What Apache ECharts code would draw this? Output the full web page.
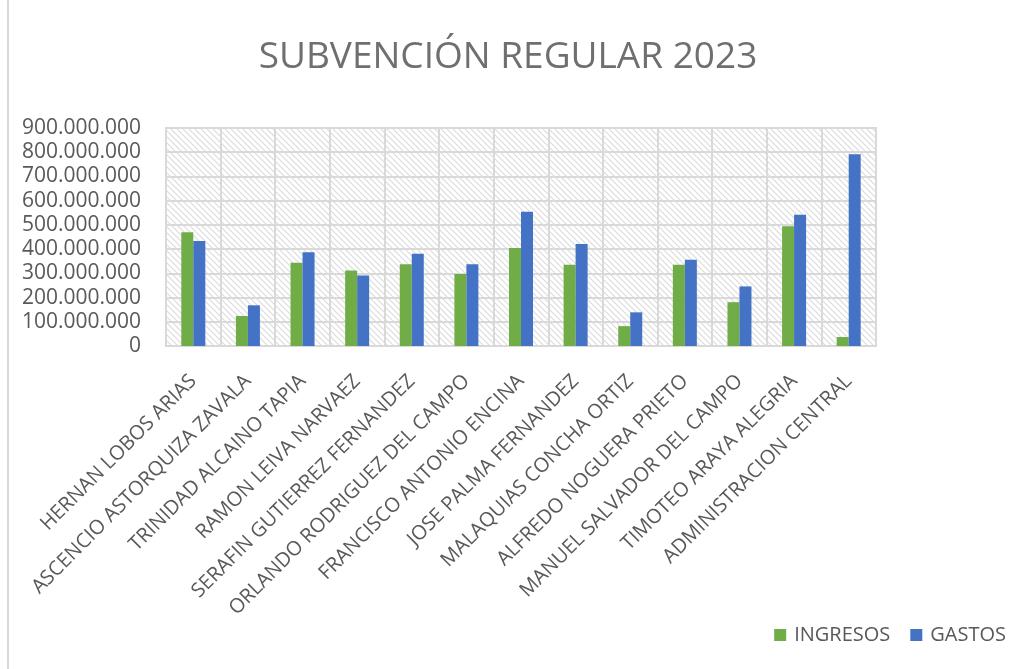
<!DOCTYPE html>
<html lang="es">
<head>
<meta charset="utf-8">
<title>Subvención Regular 2023</title>
<script src="https://cdn.jsdelivr.net/npm/echarts@6/dist/echarts.min.js"></script>
<style>
    html, body { margin: 0; padding: 0; background: #fff; }
    #chart { width: 1016px; height: 669px; }
</style>
</head>
<body>
<div id="chart"></div>
<script>
var categorias = ['HERNAN LOBOS ARIAS', 'ASCENCIO ASTORQUIZA ZAVALA', 'TRINIDAD ALCAINO TAPIA',
    'RAMON LEIVA NARVAEZ', 'SERAFIN GUTIERREZ FERNANDEZ', 'ORLANDO RODRIGUEZ DEL CAMPO',
    'FRANCISCO ANTONIO ENCINA', 'JOSE PALMA FERNANDEZ', 'MALAQUIAS CONCHA ORTIZ',
    'ALFREDO NOGUERA PRIETO', 'MANUEL SALVADOR DEL CAMPO', 'TIMOTEO ARAYA ALEGRIA',
    'ADMINISTRACION CENTRAL'];
var ingresos = [470000000, 124000000, 344000000, 312000000, 338000000, 297000000, 405000000,
    335000000, 82000000, 335000000, 181000000, 494000000, 37000000];
var gastos = [433000000, 168000000, 387000000, 291000000, 381000000, 338000000, 554000000,
    421000000, 139000000, 356000000, 246000000, 542000000, 792000000];

// trama diagonal del fondo del area de trazado
function trama() {
    var c = document.createElement('canvas');
    c.width = 6; c.height = 6;
    var ctx = c.getContext('2d');
    ctx.fillStyle = '#ffffff';
    ctx.fillRect(0, 0, 6, 6);
    ctx.strokeStyle = '#dcdcdc';
    ctx.lineWidth = 1.2;
    ctx.beginPath();
    ctx.moveTo(-1, -1); ctx.lineTo(7, 7);
    ctx.moveTo(-4, 2); ctx.lineTo(4, 10);
    ctx.moveTo(2, -4); ctx.lineTo(10, 4);
    ctx.stroke();
    return c;
}

function puntos(v) {
    return String(v).replace(/\B(?=(\d{3})+(?!\d))/g, '.');
}

var myChart = echarts.init(document.getElementById('chart'));
var option = {
    animation: false,
    backgroundColor: '#ffffff',
    textStyle: { fontFamily: 'Open Sans' },
    title: {
        text: 'SUBVENCIÓN REGULAR 2023',
        left: 'center',
        top: 34,
        textStyle: { fontSize: 37, fontWeight: 'normal', color: '#6f6f6f', fontFamily: 'Open Sans' }
    },
    graphic: [{
        type: 'line',
        shape: { x1: 8, y1: 0, x2: 8, y2: 669 },
        style: { stroke: '#d9d9d9', lineWidth: 2 }
    }],
    legend: {
        data: ['INGRESOS', 'GASTOS'],
        right: 5,
        top: 620,
        itemWidth: 12,
        itemHeight: 12,
        itemGap: 20,
        icon: 'rect',
        textStyle: { fontSize: 20, color: '#595959', padding: [0, 0, 0, 3] }
    },
    grid: {
        left: 166,
        right: 140,
        top: 128,
        bottom: 323,
        show: true,
        borderColor: '#d9d9d9',
        borderWidth: 2,
        backgroundColor: { image: trama(), repeat: 'repeat' }
    },
    xAxis: {
        type: 'category',
        data: categorias,
        axisLine: { lineStyle: { color: '#d9d9d9', width: 2 } },
        axisTick: { show: false },
        splitLine: { show: true, lineStyle: { color: '#d9d9d9', width: 2 } },
        axisLabel: { interval: 0, rotate: 45, margin: 32, fontSize: 20, color: '#595959' }
    },
    yAxis: {
        type: 'value',
        min: 0,
        max: 900000000,
        interval: 100000000,
        axisLine: { show: false },
        axisTick: { show: false },
        splitLine: { lineStyle: { color: '#d9d9d9', width: 2 } },
        axisLabel: { fontSize: 21, color: '#595959', margin: 25, formatter: puntos }
    },
    series: [
        {
            name: 'INGRESOS',
            type: 'bar',
            data: ingresos,
            barWidth: 12,
            barGap: '0%',
            itemStyle: { color: '#70ad47' }
        },
        {
            name: 'GASTOS',
            type: 'bar',
            data: gastos,
            barWidth: 12,
            itemStyle: { color: '#4472c4' }
        }
    ]
};
myChart.setOption(option);
</script>
</body>
</html>
